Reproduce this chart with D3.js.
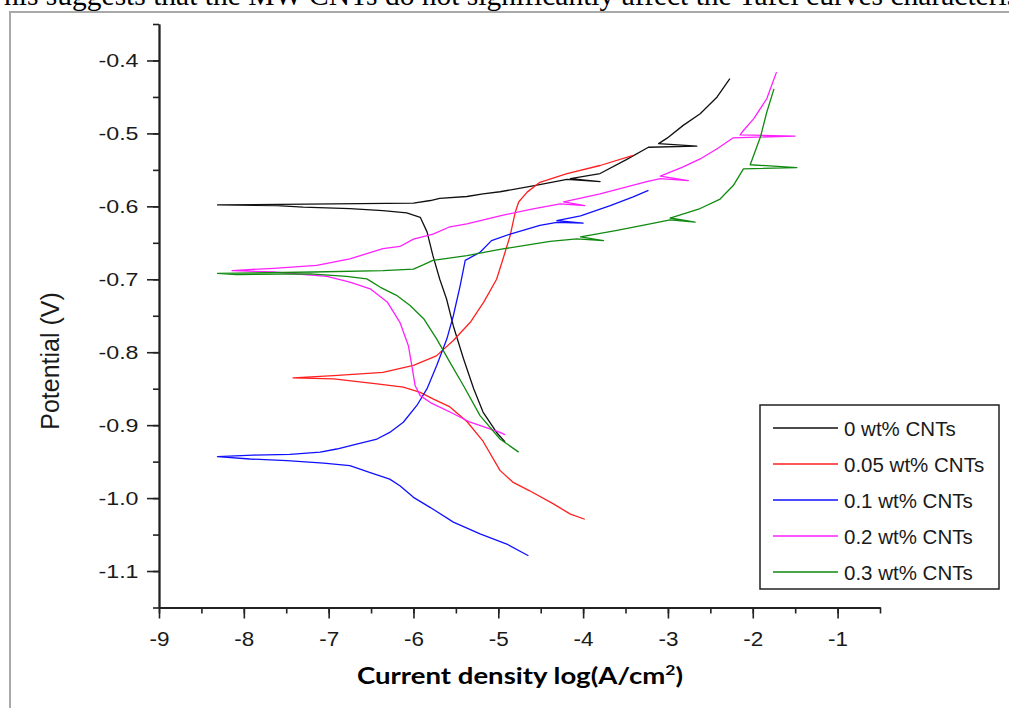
<!DOCTYPE html>
<html><head><meta charset="utf-8">
<script src="https://cdn.jsdelivr.net/npm/d3@7/dist/d3.min.js"></script>
<style>body{margin:0;background:#fff}svg{display:block}</style>
</head><body>
<svg id="c" width="1009" height="708"></svg>
<script>
const seriesNames = ["0 wt% CNTs","0.05 wt% CNTs","0.1 wt% CNTs","0.2 wt% CNTs","0.3 wt% CNTs"];
const seriesColors = ["#111111","#ff2020","#1010ff","#ff20ff","#108a10"];
const xTicks = [-9,-8,-7,-6,-5,-4,-3,-2,-1];
const yTicks = [-0.4,-0.5,-0.6,-0.7,-0.8,-0.9,-1.0,-1.1];
const xLabel = "Current density log(A/cm";
const yLabel = "Potential (V)";
const topText = "his suggests that the MW CNTs do not significantly affect the Tafel curves characteristics";

const s0 = [[-4.92,-0.923],[-5.02,-0.910],[-5.18,-0.882],[-5.29,-0.850],[-5.41,-0.809],[-5.53,-0.764],[-5.61,-0.727],[-5.69,-0.700],[-5.77,-0.668],[-5.84,-0.635],[-5.92,-0.615],[-6.08,-0.609],[-6.36,-0.606],[-6.75,-0.603],[-7.30,-0.601],[-7.61,-0.599],[-8.31,-0.598],[-7.26,-0.597],[-6.00,-0.5955],[-5.80,-0.592],[-5.69,-0.589],[-5.37,-0.5865],[-5.18,-0.583],[-4.98,-0.580],[-4.59,-0.572],[-4.19,-0.563],[-3.80,-0.566],[-4.15,-0.562],[-3.80,-0.555],[-3.49,-0.536],[-3.23,-0.519],[-2.66,-0.5175],[-3.11,-0.514],[-3.01,-0.5065],[-2.82,-0.489],[-2.62,-0.473],[-2.42,-0.450],[-2.27,-0.425]];
const s1 = [[-3.98,-1.029],[-4.15,-1.022],[-4.35,-1.008],[-4.63,-0.990],[-4.83,-0.978],[-4.98,-0.962],[-5.18,-0.922],[-5.37,-0.895],[-5.57,-0.875],[-5.77,-0.864],[-5.92,-0.855],[-6.12,-0.848],[-6.43,-0.8435],[-6.94,-0.8366],[-7.42,-0.8353],[-6.94,-0.832],[-6.36,-0.8275],[-6.00,-0.818],[-5.73,-0.805],[-5.53,-0.784],[-5.33,-0.759],[-5.17,-0.731],[-5.02,-0.700],[-4.92,-0.663],[-4.86,-0.640],[-4.80,-0.608],[-4.76,-0.594],[-4.66,-0.5805],[-4.51,-0.567],[-4.19,-0.555],[-3.80,-0.544],[-3.41,-0.530]];
const s2 = [[-4.645,-1.079],[-4.90,-1.063],[-5.215,-1.049],[-5.53,-1.033],[-5.80,-1.013],[-6.00,-0.999],[-6.16,-0.983],[-6.28,-0.974],[-6.51,-0.965],[-6.75,-0.9555],[-7.06,-0.952],[-7.49,-0.9487],[-7.93,-0.9464],[-8.31,-0.9432],[-7.89,-0.941],[-7.455,-0.940],[-7.10,-0.937],[-6.905,-0.9327],[-6.67,-0.926],[-6.43,-0.919],[-6.28,-0.910],[-6.12,-0.896],[-5.96,-0.873],[-5.84,-0.850],[-5.725,-0.818],[-5.607,-0.782],[-5.53,-0.750],[-5.45,-0.709],[-5.39,-0.674],[-5.215,-0.663],[-5.08,-0.647],[-4.86,-0.638],[-4.51,-0.626],[-4.31,-0.622],[-4.00,-0.623],[-4.31,-0.6195],[-4.03,-0.613],[-3.68,-0.599],[-3.41,-0.587],[-3.23,-0.578]];
const s3 = [[-4.92,-0.913],[-4.98,-0.910],[-5.33,-0.896],[-5.57,-0.882],[-5.80,-0.869],[-5.92,-0.8595],[-5.98,-0.846],[-6.02,-0.818],[-6.06,-0.791],[-6.16,-0.759],[-6.31,-0.731],[-6.51,-0.713],[-6.75,-0.704],[-7.02,-0.696],[-7.65,-0.690],[-8.14,-0.688],[-7.65,-0.685],[-7.14,-0.681],[-6.75,-0.672],[-6.36,-0.658],[-6.16,-0.655],[-6.00,-0.645],[-5.77,-0.638],[-5.57,-0.628],[-5.37,-0.624],[-4.98,-0.613],[-4.59,-0.6034],[-4.27,-0.5966],[-3.98,-0.599],[-4.23,-0.594],[-3.80,-0.583],[-3.25,-0.566],[-3.09,-0.562],[-2.76,-0.5646],[-3.09,-0.5586],[-2.82,-0.546],[-2.62,-0.535],[-2.42,-0.521],[-2.23,-0.506],[-1.50,-0.5037],[-2.15,-0.502],[-2.11,-0.496],[-1.99,-0.480],[-1.835,-0.4525],[-1.72,-0.416]];
const s4 = [[-4.76,-0.937],[-4.98,-0.919],[-5.215,-0.887],[-5.41,-0.846],[-5.57,-0.814],[-5.725,-0.782],[-5.88,-0.754],[-6.04,-0.736],[-6.20,-0.722],[-6.39,-0.711],[-6.55,-0.6995],[-6.79,-0.696],[-7.22,-0.6926],[-8.085,-0.6935],[-8.31,-0.692],[-7.18,-0.690],[-6.36,-0.688],[-6.00,-0.686],[-5.88,-0.680],[-5.77,-0.674],[-5.37,-0.6675],[-4.98,-0.659],[-4.39,-0.648],[-4.075,-0.6446],[-3.76,-0.647],[-4.03,-0.642],[-3.60,-0.633],[-3.21,-0.624],[-2.975,-0.6185],[-2.68,-0.6217],[-2.975,-0.616],[-2.62,-0.603],[-2.385,-0.590],[-2.23,-0.5715],[-2.11,-0.5486],[-1.48,-0.5468],[-2.03,-0.543],[-1.91,-0.505],[-1.835,-0.471],[-1.75,-0.439]];
const allSeries = [s0,s1,s2,s3,s4];

const svg = d3.select("#c");
svg.append("rect").attr("width",1009).attr("height",708).attr("fill","#fff");

// document text cut at top (as in the reference)
svg.append("text").attr("x",4).attr("y",4.5)
  .attr("font-family","'Liberation Serif','Times New Roman',serif").attr("font-size",29.5)
  .attr("fill","#000").text(topText);
// figure frame
svg.append("rect").attr("x",10).attr("y",12).attr("width",1020).attr("height",720)
  .attr("fill","none").attr("stroke","#a9a9a9").attr("stroke-width",2);

const x = d3.scaleLinear().domain([-9,-0.5]).range([159,880]);
const y = d3.scaleLinear().domain([-1.15,-0.35]).range([607.5,24]);

const axisColor = "#222";
const xMinor = d3.range(-9,-0.49,0.5);
const yMinor = d3.range(-1.15,-0.349,0.05);
svg.append("g").attr("transform","translate(0,607.5)")
  .call(d3.axisBottom(x).tickValues(xMinor).tickSize(6).tickSizeOuter(0).tickFormat(""))
  .call(g=>g.selectAll("line,path").attr("stroke",axisColor).attr("stroke-width",1.6));
svg.append("g").attr("transform","translate(159,0)")
  .call(d3.axisLeft(y).tickValues(yMinor).tickSize(6).tickSizeOuter(0).tickFormat(""))
  .call(g=>g.selectAll("line,path").attr("stroke",axisColor).attr("stroke-width",1.6));

const gx = svg.append("g").attr("transform","translate(0,607.5)")
  .call(d3.axisBottom(x).tickValues(xTicks).tickSize(11).tickSizeOuter(0).tickFormat(d=>"-"+Math.abs(d)));
gx.selectAll("line,path").attr("stroke",axisColor).attr("stroke-width",1.6);
gx.selectAll("text").attr("y",38.5).attr("dy",null).attr("fill","#1a1a1a")
  .attr("font-family","'Liberation Sans',Arial,sans-serif").attr("font-size",20)
  .attr("textLength",20).attr("lengthAdjust","spacingAndGlyphs");

const gy = svg.append("g").attr("transform","translate(159,0)")
  .call(d3.axisLeft(y).tickValues(yTicks).tickSize(12).tickSizeOuter(0).tickFormat(d=>"-"+Math.abs(d).toFixed(1)));
gy.selectAll("line,path").attr("stroke",axisColor).attr("stroke-width",1.6);
gy.selectAll("text").attr("x",-20.5).attr("y",6.5).attr("dy",null).attr("fill","#1a1a1a")
  .attr("font-family","'Liberation Sans',Arial,sans-serif").attr("font-size",19)
  .attr("textLength",40).attr("lengthAdjust","spacingAndGlyphs");
svg.selectAll(".domain").attr("stroke",axisColor).attr("stroke-width",1.8);

const line = d3.line().x(d=>x(d[0])).y(d=>y(d[1]));
allSeries.forEach((s,i)=>{
  svg.append("path").datum(s).attr("d",line).attr("fill","none")
    .attr("stroke",seriesColors[i]).attr("stroke-width",1.3).attr("stroke-linejoin","round");
});

svg.append("text").attr("transform","translate(59,361) rotate(-90)").attr("text-anchor","middle")
  .attr("font-family","'Liberation Sans',Arial,sans-serif").attr("font-size",25).attr("fill","#1a1a1a")
  .text(yLabel);
const xt = svg.append("text").attr("x",357).attr("y",684)
  .attr("font-family","Lato,'Open Sans',sans-serif").attr("font-weight","bold").attr("font-size",22).attr("fill","#000")
  .attr("textLength",326).attr("lengthAdjust","spacingAndGlyphs");
xt.append("tspan").text(xLabel);
xt.append("tspan").attr("dy",-9).attr("font-size",14).text("2");
xt.append("tspan").attr("dy",9).text(")");

const lg = svg.append("g");
lg.append("rect").attr("x",760).attr("y",405).attr("width",239).attr("height",184)
  .attr("fill","#fff").attr("stroke","#222").attr("stroke-width",1.5);
seriesNames.forEach((n,i)=>{
  const yy = 428 + i*36;
  lg.append("line").attr("x1",773).attr("x2",838).attr("y1",yy).attr("y2",yy)
    .attr("stroke",seriesColors[i]).attr("stroke-width",1.5);
  lg.append("text").attr("x",844).attr("y",yy+7.5)
    .attr("font-family","'Liberation Sans',Arial,sans-serif").attr("font-size",20.5).attr("fill","#1a1a1a").text(n);
});
</script>
</body></html>
